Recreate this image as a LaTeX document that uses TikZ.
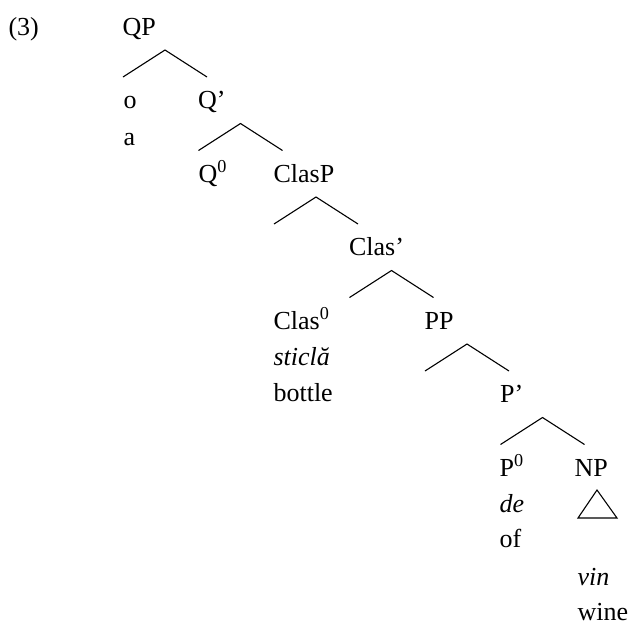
\documentclass[tikz,border=0pt]{standalone}
\usepackage{fontspec}
\setmainfont{Liberation Serif}

\begin{document}
\begin{tikzpicture}[x=1pt,y=-1pt,line width=1.1pt,
    every node/.style={anchor=base west,inner sep=0pt,font=\fontsize{26}{36}\selectfont}]
    \useasboundingbox (0,0) rectangle (634,625);

%labels
    \node (ex) at (8,35) {(3)};
    \node (QP) at (122,35) {QP};
    \node (o) at (123,108.5) {o};
    \node (a) at (123,145) {a};
    \node (Qbar) at (197.5,108.5) {Q'};
    \node (Qzero) at (198,182) {Q\textsuperscript{0}};
    \node (ClasP) at (273,182) {ClasP};
    \node (Clasbar) at (348.5,255.5) {Clas'};
    \node (Claszero) at (273,329) {Clas\textsuperscript{0}};
    \node (sticla) at (273,365) {\itshape sticlă};
    \node (bottle) at (273,401.5) {bottle};
    \node (PP) at (424,329) {PP};
    \node (Pbar) at (499.5,402.5) {P'};
    \node (Pzero) at (499,476) {P\textsuperscript{0}};
    \node (de) at (499,512) {\itshape de};
    \node (of) at (499,547.5) {of};
    \node (NP) at (574,476) {NP};
    \node (vin) at (577,585) {\itshape vin};
    \node (wine) at (577,620) {wine};

%branches
    \foreach \n in {QP,Qbar,ClasP,Clasbar,PP,Pbar}
        \draw ([shift={(1,42)}]\n.base west) -- ([shift={(43,15)}]\n.base west)
              -- ([shift={(85,42)}]\n.base west);

%triangle
    \draw ([shift={(23,14)}]NP.base west) -- ([shift={(4,42)}]NP.base west)
          -- ([shift={(43,42)}]NP.base west) -- cycle;

\end{tikzpicture}
\end{document}
